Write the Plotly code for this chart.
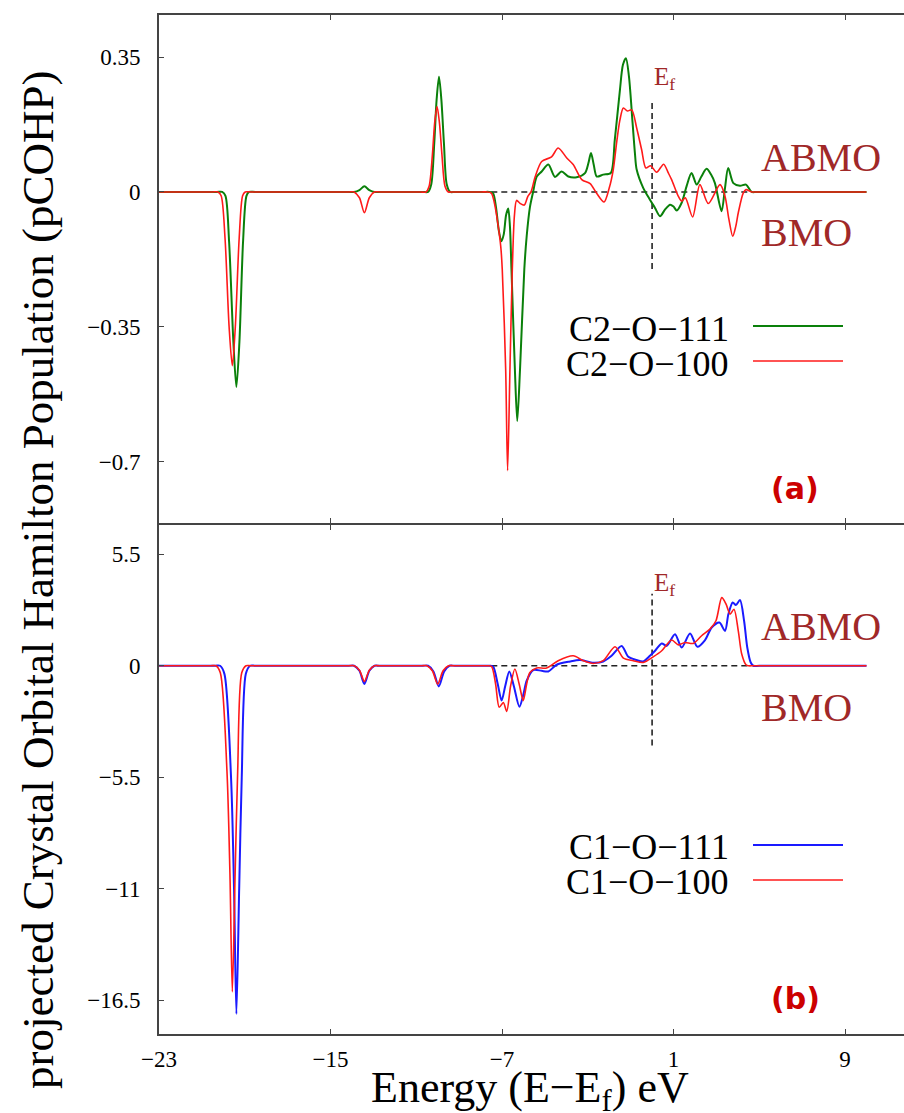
import plotly.graph_objects as go

# ---------------- data ----------------
# panel (a): C2-O pCOHP
E_C2_111 = [-23, -20.3, -20.05, -19.9, -19.73, -19.53, -19.39, -19.25, -19.08, -18.92, -18.8, -18.5,
            -14.15, -13.9, -13.65, -13.42, -13.19, -12.95, -12.7,
            -10.7, -10.45, -10.3, -10.16, -10.05, -9.94, -9.83, -9.71, -9.58, -9.42, -9.2,
            -7.85, -7.6, -7.42, -7.28, -7.15, -7.03, -6.92, -6.81, -6.71, -6.63, -6.56, -6.4, -6.29, -6.16,
            -5.96, -5.85, -5.7, -5.55, -5.38, -5.15, -4.84, -4.53, -4.22, -3.91, -3.52, -3.13, -2.97,
            -2.85, -2.72, -2.58, -2.28, -1.93, -1.74, -1.5, -1.36, -1.22, -1.08, -0.91, -0.8, -0.72,
            -0.41, -0.10, 0.13, 0.37, 0.60, 0.84, 1.0, 1.15, 1.38, 1.61, 1.84, 2.08, 2.3, 2.54, 2.75,
            2.93, 3.24, 3.4, 3.55, 3.79, 4.10, 4.38, 4.64, 4.9, 10]
P_C2_111 = [0, 0, 0, -0.01, -0.13, -0.39, -0.506, -0.39, -0.13, -0.01, 0, 0,
            0, 0, 0.005, 0.0145, 0.005, 0, 0,
            0, 0, 0.02, 0.127, 0.24, 0.299, 0.24, 0.127, 0.02, 0, 0,
            0, 0, -0.003, -0.04, -0.1, -0.128, -0.11, -0.06, -0.043, -0.09, -0.2, -0.46, -0.594, -0.46,
            -0.2, -0.115, -0.04, 0.0, 0.04, 0.053, 0.071, 0.039, 0.053, 0.040, 0.038, 0.049, 0.075,
            0.101, 0.07, 0.040, 0.045, 0.049, 0.135, 0.265, 0.33, 0.347, 0.3, 0.179, 0.1, 0.058,
            0.010, -0.020, -0.041, -0.063, -0.046, -0.033, -0.038, -0.048, -0.028, 0.015, 0.049, 0.019, 0.04, 0.060, 0.045,
            0.023, -0.050, 0.01, 0.062, 0.023, 0.016, 0.019, 0, 0, 0]

E_C2_100 = [-23, -20.5, -20.25, -20.1, -19.92, -19.73, -19.58, -19.44, -19.26, -19.1, -18.98, -18.7,
            -14.15, -13.9, -13.65, -13.42, -13.19, -12.95, -12.7,
            -10.8, -10.55, -10.4, -10.25, -10.14, -10.03, -9.92, -9.8, -9.66, -9.5, -9.3,
            -7.95, -7.7, -7.5, -7.35, -7.2, -7.06, -6.99, -6.83, -6.74, -6.63, -6.52, -6.42, -6.32, -6.15,
            -5.96, -5.8, -5.65, -5.45, -5.15, -4.69, -4.38, -3.98, -3.68, -3.28, -2.89, -2.58, -2.24,
            -2.0, -1.81, -1.65, -1.50, -1.34, -1.15, -0.95, -0.72, -0.49, -0.29, -0.07, 0.21, 0.54,
            0.75, 0.91, 1.22, 1.38, 1.55, 1.89, 2.23, 2.62, 3.17, 3.40, 3.58, 3.76, 3.9, 4.02, 4.25,
            4.38, 4.64, 4.9, 10]
P_C2_100 = [0, 0, 0, -0.01, -0.12, -0.35, -0.451, -0.35, -0.12, -0.01, 0, 0,
            0, 0, -0.015, -0.054, -0.015, 0, 0,
            0, 0, 0.015, 0.095, 0.18, 0.2216, 0.18, 0.095, 0.015, 0, 0,
            0, 0, -0.003, -0.03, -0.08, -0.141, -0.2, -0.46, -0.723, -0.46, -0.2, -0.06, -0.022, -0.03,
            -0.034, -0.012, 0, 0.04, 0.079, 0.091, 0.114, 0.088, 0.071, 0.032, 0.0215, -0.004, -0.026,
            0.01, 0.058, 0.13, 0.187, 0.2175, 0.21, 0.213, 0.166, 0.11, 0.062, 0.068, 0.051, 0.072,
            0.05, 0.032, -0.011, -0.024, -0.015, -0.065, 0.019, -0.030, 0.019, -0.011, -0.07, -0.115, -0.09, -0.054, -0.003,
            0.006, 0, 0, 0]

# panel (b): C1-O pCOHP
E_C1_111 = [-23, -20.4, -20.15, -19.95, -19.64, -19.5, -19.39, -19.26, -19.14, -18.95, -18.75, -18.5,
            -14.15, -13.9, -13.65, -13.42, -13.19, -12.95, -12.7,
            -10.7, -10.45, -10.2, -9.95, -9.7, -9.45, -9.2,
            -7.7, -7.55, -7.41, -7.2, -7.02, -6.85, -6.66, -6.45, -6.19, -6.0, -5.85, -5.54, -5.15,
            -4.84, -4.45, -3.83, -3.36, -2.74, -2.28, -1.89, -1.42, -1.11, -0.72, -0.41, -0.10, 0.14,
            0.45, 0.68, 1.07, 1.38, 1.77, 2.11, 2.47, 2.78, 3.14, 3.40, 3.56, 3.76, 3.91, 4.10, 4.29,
            4.44, 4.60, 4.72, 5.0, 10]
P_C1_111 = [0, 0, 0, -0.4, -5.5, -11, -17.18, -11, -5.5, -0.4, 0, 0,
            0, 0, -0.25, -0.90, -0.25, 0, 0,
            0, 0, -0.28, -1.02, -0.28, 0, 0,
            0, 0, -0.05, -0.9, -1.72, -1.0, -0.28, -1.0, -2.02, -1.4, -0.74, -0.21, -0.25,
            -0.28, 0.05, 0.21, 0.28, 0.15, 0.21, 0.49, 0.98, 0.44, 0.28, 0.21, 0.49, 0.74,
            1.10, 0.98, 1.56, 0.90, 1.59, 0.94, 1.27, 1.89, 2.13, 1.72, 2.55, 3.12, 3.00, 3.24, 2.22,
            0.90, 0.16, 0, 0, 0]

E_C1_100 = [-23, -20.6, -20.34, -20.14, -19.83, -19.69, -19.58, -19.45, -19.33, -19.14, -18.94, -18.7,
            -14.15, -13.9, -13.65, -13.42, -13.19, -12.95, -12.7,
            -10.75, -10.5, -10.25, -10.0, -9.75, -9.5, -9.25,
            -7.8, -7.62, -7.48, -7.3, -7.13, -6.94, -6.78, -6.6, -6.40, -6.2, -6.01, -5.85, -5.70,
            -5.38, -4.92, -4.38, -3.68, -3.21, -2.74, -2.28, -1.73, -1.34, -0.88, -0.41, 0.05, 0.45,
            0.91, 1.22, 1.53, 1.92, 2.31, 2.70, 2.98, 3.25, 3.45, 3.64, 3.82, 4.02, 4.18, 4.38, 4.49,
            4.75, 10]
P_C1_100 = [0, 0, 0, -0.35, -5.2, -10.3, -16.09, -10.3, -5.2, -0.35, 0, 0,
            0, 0, -0.22, -0.77, -0.22, 0, 0,
            0, 0, -0.25, -0.9, -0.25, 0, 0,
            0, 0, -0.05, -0.9, -2.05, -1.81, -2.25, -1.0, -0.16, -0.9, -1.72, -0.9, -0.33,
            -0.11, -0.11, 0.25, 0.49, 0.25, 0.11, 0.25, 0.94, 0.38, 0.25, 0.16, 0.44, 0.74,
            1.27, 1.03, 1.15, 1.10, 1.48, 1.81, 2.22, 3.36, 3.04, 2.55, 2.79, 1.72, 0.58, 0.05, 0,
            0, 0]

for a, b in [(E_C2_111, P_C2_111), (E_C2_100, P_C2_100), (E_C1_111, P_C1_111), (E_C1_100, P_C1_100)]:
    assert len(a) == len(b), (len(a), len(b))

X_TICKS = [-23, -15, -7, 1, 9]
X_TICKTEXT = ["\u221223", "\u221215", "\u22127", "1", "9"]
TOP_TICKS = [0.35, 0, -0.35, -0.7]
TOP_TICKTEXT = ["0.35", "0", "\u22120.35", "\u22120.7"]
BOT_TICKS = [5.5, 0, -5.5, -11, -16.5]
BOT_TICKTEXT = ["5.5", "0", "\u22125.5", "\u221211", "\u221216.5"]

X_RANGE = [-23, 11.75]
TOP_RANGE = [-0.858, 0.459]
BOT_RANGE = [-18.17, 6.96]

# reference lines
ZERO_SPAN = [-7.5, 4.5]
EF = 0
EF_SPAN_TOP = [-0.2, 0.235]
EF_SPAN_BOT = [-3.94, 3.55]

# ---------------- figure ----------------
W, H = 904, 1113
ML, MR, MT, MB = 159, 0, 15, 79


def px(x):
    return (x - ML) / (W - ML - MR)


def py(y):
    return (H - MB - y) / (H - MT - MB)


TOP_DOMAIN = [py(522.7), 1]
BOT_DOMAIN = [0, py(524.7)]

GREEN = "#0a800a"
RED = "#ff1a1a"
BLUE = "#1a1aff"
BROWN = "#a02828"
SERIF = "Liberation Serif"

fig = go.Figure()
sm = 0.8
fig.add_trace(go.Scatter(x=E_C2_111, y=P_C2_111, mode="lines", xaxis="x", yaxis="y",
                         line=dict(color=GREEN, width=2, shape="spline", smoothing=sm), name="C2-O-111"))
fig.add_trace(go.Scatter(x=E_C2_100, y=P_C2_100, mode="lines", xaxis="x", yaxis="y",
                         line=dict(color=RED, width=1.6, shape="spline", smoothing=sm), name="C2-O-100"))
fig.add_trace(go.Scatter(x=E_C1_111, y=P_C1_111, mode="lines", xaxis="x2", yaxis="y2",
                         line=dict(color=BLUE, width=2, shape="spline", smoothing=sm), name="C1-O-111"))
fig.add_trace(go.Scatter(x=E_C1_100, y=P_C1_100, mode="lines", xaxis="x2", yaxis="y2",
                         line=dict(color=RED, width=1.6, shape="spline", smoothing=sm), name="C1-O-100"))

axis_common = dict(showgrid=False, zeroline=False, showline=True, linecolor="#444", linewidth=2,
                   ticks="inside", ticklen=5, tickcolor="#444", tickwidth=1,
                   tickfont=dict(family=SERIF, size=23, color="black"))

fig.update_layout(
    width=W, height=H, margin=dict(l=ML, r=MR, t=MT, b=MB),
    paper_bgcolor="white", plot_bgcolor="white", showlegend=False,
    xaxis=dict(domain=[0, 1], range=X_RANGE, anchor="y", mirror="ticks", tickvals=X_TICKS,
               showticklabels=False, **axis_common),
    yaxis=dict(domain=TOP_DOMAIN, range=TOP_RANGE, anchor="x", tickvals=TOP_TICKS,
               ticktext=TOP_TICKTEXT, ticklabelstandoff=12, **axis_common),
    xaxis2=dict(domain=[0, 1], range=X_RANGE, anchor="y2", mirror="ticks", tickvals=X_TICKS,
                ticktext=X_TICKTEXT, ticklabelstandoff=3, **axis_common),
    yaxis2=dict(domain=BOT_DOMAIN, range=BOT_RANGE, anchor="x2", tickvals=BOT_TICKS,
                ticktext=BOT_TICKTEXT, ticklabelstandoff=12, **axis_common),
)

dash_line = dict(color="#222", width=1.6, dash="6px,4px")
for xr, yr, ef_span in [("x", "y", EF_SPAN_TOP), ("x2", "y2", EF_SPAN_BOT)]:
    fig.add_shape(type="line", xref=xr, yref=yr, x0=ZERO_SPAN[0], x1=ZERO_SPAN[1], y0=0, y1=0,
                  line=dash_line, layer="below")
    fig.add_shape(type="line", xref=xr, yref=yr, x0=EF, x1=EF, y0=ef_span[0], y1=ef_span[1],
                  line=dash_line, layer="below")

ann = []


def text(x, y, s, size, color="black", family=SERIF, xanchor="center", angle=0):
    ann.append(dict(x=px(x), y=py(y), xref="paper", yref="paper", text=s, showarrow=False,
                    xanchor=xanchor, yanchor="middle", textangle=angle,
                    font=dict(family=family, size=size, color=color)))


# panel (a) labels
text(652, 78, "E<sub>f</sub>", 25, BROWN, xanchor="left")
text(759, 157, "ABMO", 40, BROWN, xanchor="left")
text(759, 233, "BMO", 40, BROWN, xanchor="left")
text(731, 329, "C2\u2212O\u2212111", 36, xanchor="right")
text(731, 364, "C2\u2212O\u2212100", 36, xanchor="right")
text(795, 488, "<b>(a)</b>", 30, "#cc0000", family="DejaVu Sans")
# panel (b) labels
text(652, 584, "E<sub>f</sub>", 25, BROWN, xanchor="left")
text(759, 626, "ABMO", 40, BROWN, xanchor="left")
text(759, 707, "BMO", 40, BROWN, xanchor="left")
text(731, 847, "C1\u2212O\u2212111", 36, xanchor="right")
text(731, 882, "C1\u2212O\u2212100", 36, xanchor="right")
text(795, 998, "<b>(b)</b>", 30, "#cc0000", family="DejaVu Sans")
# axis titles
text(530, 1090, "Energy (E\u2212E<sub>f</sub>) eV", 44)
text(38, 580, "projected Crystal Orbital Hamilton Population (pCOHP)", 45, angle=-90)
fig.update_layout(annotations=ann)

# legend sample lines
for ypix, col, lw in [(326, GREEN, 2), (361, RED, 1.6), (845, BLUE, 2), (880, RED, 1.6)]:
    fig.add_shape(type="line", xref="paper", yref="paper", x0=px(753), x1=px(843),
                  y0=py(ypix), y1=py(ypix), line=dict(color=col, width=lw))

fig.write_html("out.html")
